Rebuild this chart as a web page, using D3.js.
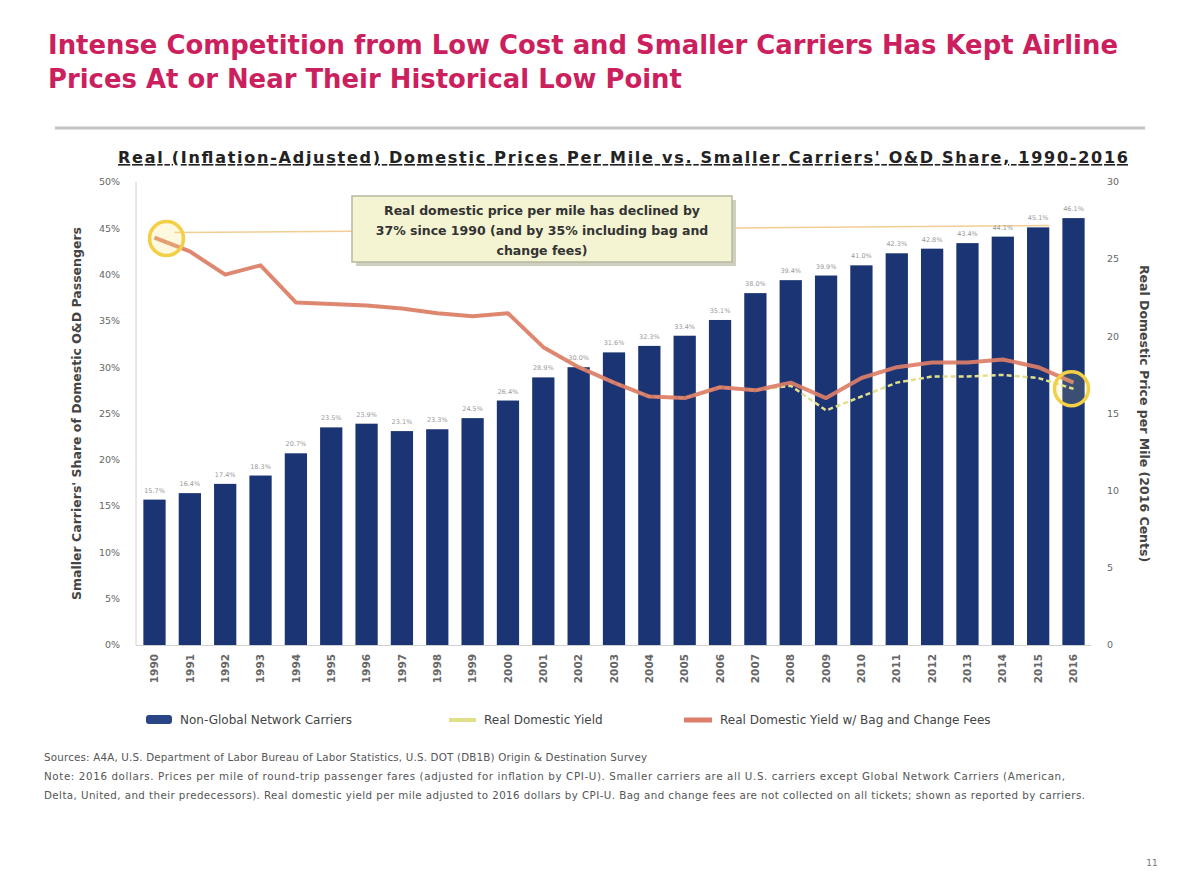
<!DOCTYPE html>
<html><head><meta charset="utf-8">
<script src="https://cdn.jsdelivr.net/npm/d3@7"></script>
<style>body{margin:0;background:#fff} svg{display:block}</style>
</head><body><svg id="c" width="1180" height="885"></svg>
<script>
// ---- data ----
const years = ["1990","1991","1992","1993","1994","1995","1996","1997","1998","1999","2000","2001","2002","2003","2004","2005","2006","2007","2008","2009","2010","2011","2012","2013","2014","2015","2016"];
const shareNonGlobal = [15.7,16.4,17.4,18.3,20.7,23.5,23.9,23.1,23.3,24.5,26.4,28.9,30.0,31.6,32.3,33.4,35.1,38.0,39.4,39.9,41.0,42.3,42.8,43.4,44.1,45.1,46.1];
const realYield = [26.4,25.5,24.0,24.6,22.2,22.1,22.0,21.8,21.5,21.3,21.5,19.3,18.0,17.0,16.1,16.0,16.7,16.5,16.8,15.2,16.1,17.0,17.4,17.4,17.5,17.3,16.6];
const realYieldFees = [26.4,25.5,24.0,24.6,22.2,22.1,22.0,21.8,21.5,21.3,21.5,19.3,18.0,17.0,16.1,16.0,16.7,16.5,17.0,16.0,17.3,18.0,18.3,18.3,18.5,18.0,17.0];
const leftTicks = [0,5,10,15,20,25,30,35,40,45,50];
const rightTicks = [0,5,10,15,20,25,30];
const seriesNames = ["Non-Global Network Carriers","Real Domestic Yield","Real Domestic Yield w/ Bag and Change Fees"];
const titleLines = ["Intense Competition from Low Cost and Smaller Carriers Has Kept Airline","Prices At or Near Their Historical Low Point"];
const chartTitle = "Real (Inflation-Adjusted) Domestic Prices Per Mile vs. Smaller Carriers' O&D Share, 1990-2016";
const calloutLines = ["Real domestic price per mile has declined by","37% since 1990 (and by 35% including bag and","change fees)"];
const footLines = [
 "Sources: A4A, U.S. Department of Labor Bureau of Labor Statistics, U.S. DOT (DB1B) Origin & Destination Survey",
 "Note: 2016 dollars. Prices per mile of round-trip passenger fares (adjusted for inflation by CPI-U). Smaller carriers are all U.S. carriers except Global Network Carriers (American,",
 "Delta, United, and their predecessors). Real domestic yield per mile adjusted to 2016 dollars by CPI-U. Bag and change fees are not collected on all tickets; shown as reported by carriers."
];
const footWidths = [603, 1021, 1041];

// ---- layout ----
const svg = d3.select("#c");
const plot = {l:137, r:1091, t:182, b:645};
const FONT = "DejaVu Sans, Verdana, sans-serif";

const x = d3.scaleBand().domain(years).range([plot.l, plot.r]).paddingInner(0.37).paddingOuter(0.18);
const yL = d3.scaleLinear().domain([0,50]).range([plot.b, plot.t]);
const yR = d3.scaleLinear().domain([0,30]).range([plot.b, plot.t]);

// Title
svg.append("g").selectAll("text").data(titleLines).join("text")
  .attr("x",48).attr("y",(d,i)=>54+i*34)
  .attr("font-family",FONT).attr("font-size",25.9).attr("font-weight","bold").attr("fill","#cc1f5e")
  .text(d=>d);

// rule
svg.append("line").attr("x1",55).attr("x2",1145).attr("y1",128).attr("y2",128)
  .attr("stroke","#c4c4c4").attr("stroke-width",3);

// chart title
svg.append("text").attr("x",118).attr("y",163)
  .attr("font-family",FONT).attr("font-size",16).attr("font-weight","bold").attr("fill","#222")
  .attr("text-decoration","underline").attr("textLength",1010).attr("lengthAdjust","spacing")
  .text(chartTitle);

// axes lines
svg.append("line").attr("x1",plot.l-1).attr("x2",plot.l-1).attr("y1",plot.t).attr("y2",plot.b)
  .attr("stroke","#d0d0d0").attr("stroke-width",1);
svg.append("line").attr("x1",plot.l-1).attr("x2",plot.r).attr("y1",plot.b+0.5).attr("y2",plot.b+0.5)
  .attr("stroke","#d0d0d0").attr("stroke-width",1);

// left ticks
svg.append("g").selectAll("text").data(leftTicks).join("text")
  .attr("x",120).attr("y",d=>yL(d)).attr("dy","0.35em").attr("text-anchor","end")
  .attr("font-family",FONT).attr("font-size",9.5).attr("fill","#666")
  .text(d=>d+"%");
// right ticks
svg.append("g").selectAll("text").data(rightTicks).join("text")
  .attr("x",1107).attr("y",d=>yR(d)).attr("dy","0.35em").attr("text-anchor","start")
  .attr("font-family",FONT).attr("font-size",9.5).attr("fill","#666")
  .text(d=>d);

// axis titles
svg.append("text").attr("transform",`translate(81,${(plot.t+plot.b)/2}) rotate(-90)`)
  .attr("text-anchor","middle").attr("font-family",FONT).attr("font-size",12.5).attr("font-weight","bold").attr("fill","#444")
  .text("Smaller Carriers' Share of Domestic O&D Passengers");
svg.append("text").attr("transform",`translate(1140,${(plot.t+plot.b)/2}) rotate(90)`)
  .attr("text-anchor","middle").attr("font-family",FONT).attr("font-size",12.5).attr("font-weight","bold").attr("fill","#444")
  .text("Real Domestic Price per Mile (2016 Cents)");

// reference line at 1990 level
svg.append("line").attr("x1",x(years[0])+x.bandwidth()/2+20).attr("x2",x(years[years.length-2])+x.bandwidth())
  .attr("y1",yR(realYield[0])-5).attr("y2",yR(realYield[0])-12)
  .attr("stroke","#f0c27a").attr("stroke-width",1.5).attr("opacity",0.8);

// bars
svg.append("g").selectAll("rect").data(shareNonGlobal).join("rect")
  .attr("x",(d,i)=>x(years[i])).attr("width",x.bandwidth())
  .attr("y",d=>yL(d)).attr("height",d=>yL(0)-yL(d))
  .attr("fill","#1b3473");

// bar labels
svg.append("g").selectAll("text").data(shareNonGlobal).join("text")
  .attr("x",(d,i)=>x(years[i])+x.bandwidth()/2).attr("y",d=>yL(d)-7)
  .attr("text-anchor","middle").attr("font-family",FONT).attr("font-size",6.5).attr("fill","#999")
  .text(d=>d.toFixed(1)+"%");

// x labels
svg.append("g").selectAll("text").data(years).join("text")
  .attr("transform",d=>`translate(${x(d)+x.bandwidth()/2},654) rotate(-90)`)
  .attr("dy","0.35em").attr("text-anchor","end")
  .attr("font-family",FONT).attr("font-size",10.5).attr("font-weight","bold").attr("fill","#666")
  .text(d=>d);

// lines
const lineGen = arr => d3.line().x((d,i)=>x(years[i])+x.bandwidth()/2).y(d=>yR(d))(arr);
svg.append("path").attr("d",lineGen(realYield)).attr("fill","none")
  .attr("stroke","#e2df8a").attr("stroke-width",2.5).attr("stroke-dasharray","5,3").attr("stroke-linejoin","round");
svg.append("path").attr("d",lineGen(realYieldFees)).attr("fill","none")
  .attr("stroke","#dc7e68").attr("stroke-width",4).attr("stroke-linejoin","round").attr("opacity",0.92);

// circles
const n = years.length-1;
svg.append("circle").attr("cx",x(years[0])+x.bandwidth()/2+12).attr("cy",yR(realYield[0])+1).attr("r",17)
  .attr("fill","#f7e27a").attr("fill-opacity",0.25).attr("stroke","#f2cf45").attr("stroke-width",3.5);
svg.append("circle").attr("cx",x(years[n])+x.bandwidth()/2-2).attr("cy",yR(realYield[n])).attr("r",17)
  .attr("fill","#f7e27a").attr("fill-opacity",0.15).attr("stroke","#f2cf45").attr("stroke-width",3.5);

// callout box
const box = svg.append("g");
box.append("rect").attr("x",356).attr("y",200).attr("width",380).attr("height",66).attr("fill","#cfcfc0");
box.append("rect").attr("x",352).attr("y",196).attr("width",380).attr("height",66)
  .attr("fill","#f4f4d2").attr("stroke","#b8b8a0").attr("stroke-width",1.5);
box.selectAll("text").data(calloutLines).join("text")
  .attr("x",542).attr("y",(d,i)=>215+i*20).attr("text-anchor","middle")
  .attr("font-family",FONT).attr("font-size",12.5).attr("font-weight","bold").attr("fill","#333")
  .text(d=>d);

// legend
const lg = svg.append("g").attr("font-family",FONT).attr("font-size",12).attr("fill","#444");
lg.append("rect").attr("x",146).attr("y",715).attr("width",26).attr("height",9).attr("rx",3).attr("fill","#2a4585");
lg.append("text").attr("x",180).attr("y",720).attr("dy","0.35em").text(seriesNames[0]);
lg.append("line").attr("x1",449).attr("x2",476).attr("y1",720).attr("y2",720).attr("stroke","#e2df8a").attr("stroke-width",4);
lg.append("text").attr("x",484).attr("y",720).attr("dy","0.35em").text(seriesNames[1]);
lg.append("line").attr("x1",684).attr("x2",712).attr("y1",720).attr("y2",720).attr("stroke","#dc7e68").attr("stroke-width",5);
lg.append("text").attr("x",720).attr("y",720).attr("dy","0.35em").text(seriesNames[2]);

// footnotes
svg.append("g").selectAll("text").data(footLines).join("text")
  .attr("x",44).attr("y",(d,i)=>761+i*19)
  .attr("font-family",FONT).attr("font-size",10.3).attr("fill","#555")
  .attr("textLength",(d,i)=>footWidths[i]).attr("lengthAdjust","spacing")
  .text(d=>d);

// page number
svg.append("text").attr("x",1152).attr("y",866).attr("text-anchor","middle")
  .attr("font-family",FONT).attr("font-size",9).attr("fill","#777").text("11");
</script></body></html>
